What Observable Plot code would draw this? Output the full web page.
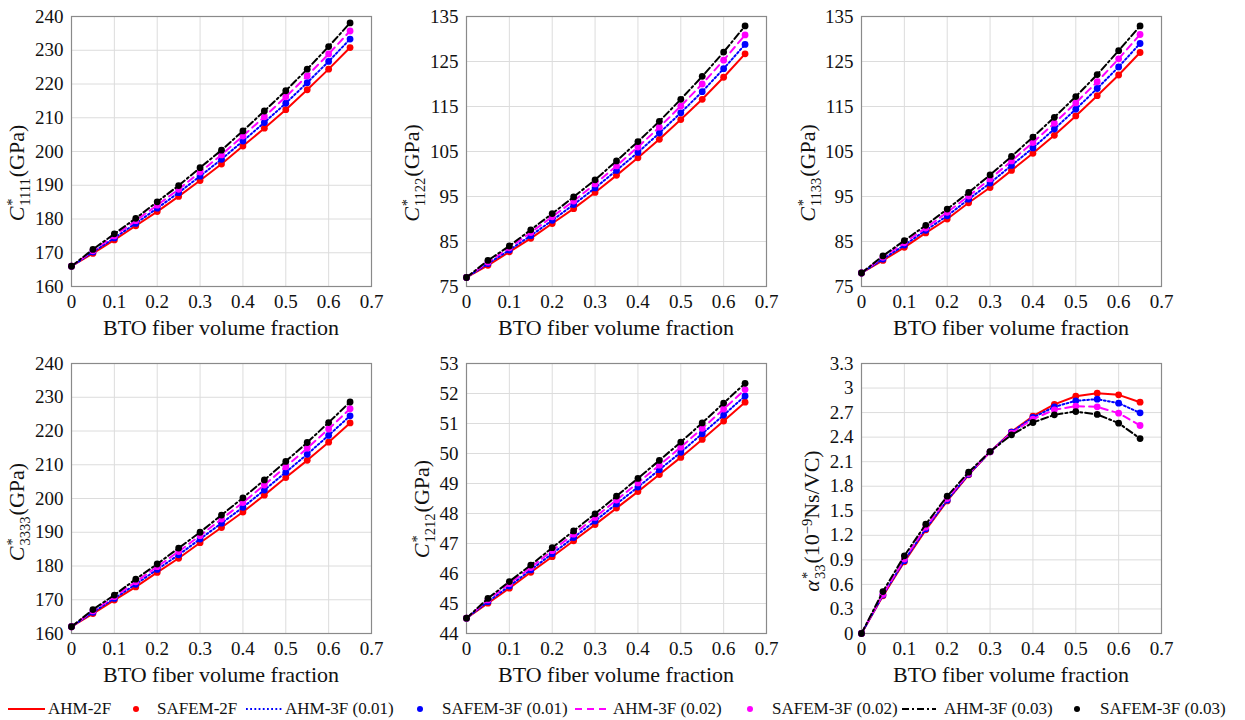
<!DOCTYPE html>
<html>
<head>
<meta charset="utf-8">
<script src="https://cdn.jsdelivr.net/npm/d3@7"></script>
<script src="https://cdn.jsdelivr.net/npm/@observablehq/plot@0.6"></script>
<style>
  html, body { margin: 0; padding: 0; background: #fff; }
  body, #root, #root *, #root svg, #root svg text, #root svg g { font-family: 'Liberation Serif', 'Times New Roman', serif !important; }
  #root { position: relative; width: 1245px; height: 720px; overflow: hidden; color: #111; }
  .xlab { position: absolute; transform: translate(-50%, -50%); font-size: 22px; white-space: nowrap; line-height: 1; }
  .ylab { position: absolute; transform: translate(-50%, -50%) rotate(-90deg); font-size: 22px; white-space: nowrap; line-height: 1; }
  .ss { display: inline-block; vertical-align: -0.42em; font-size: 0.66em; line-height: 0.92; text-align: left; margin: 0 1px 0 1px; }
  .ss span { display: block; }
  .sup { font-size: 0.66em; vertical-align: 0.5em; line-height: 0; }
  .leg { position: absolute; top: 699px; height: 20px; line-height: 20px; font-size: 17px; white-space: nowrap; }
</style>
</head>
<body>
<div id="root"></div>
<script>
// ---------------- data ----------------
const vf = [0, 0.05, 0.1, 0.15, 0.2, 0.25, 0.3, 0.35, 0.4, 0.45, 0.5, 0.55, 0.6, 0.65];
const xTicks = [0, 0.1, 0.2, 0.3, 0.4, 0.5, 0.6, 0.7];

const seriesLine = ["AHM-2F", "AHM-3F (0.01)", "AHM-3F (0.02)", "AHM-3F (0.03)"];
const seriesDot = ["SAFEM-2F", "SAFEM-3F (0.01)", "SAFEM-3F (0.02)", "SAFEM-3F (0.03)"];

// C*1111 (GPa)
const C1111_2F   = [166, 169.8, 173.8, 178.0, 182.2, 186.7, 191.4, 196.3, 201.6, 206.9, 212.4, 218.3, 224.4, 230.8];
const C1111_3F01 = [166, 170.2, 174.4, 178.7, 183.2, 187.8, 192.7, 197.7, 203.1, 208.6, 214.3, 220.4, 226.7, 233.3];
const C1111_3F02 = [166, 170.6, 175.0, 179.5, 184.1, 188.8, 193.9, 199.0, 204.6, 210.3, 216.2, 222.4, 228.9, 235.7];
const C1111_3F03 = [166, 171.0, 175.6, 180.2, 185.1, 189.9, 195.2, 200.4, 206.1, 212.0, 218.0, 224.4, 231.1, 238.1];
const C1111_ticks = [160, 170, 180, 190, 200, 210, 220, 230, 240];

// C*1122 (GPa)
const C1122_2F   = [77, 79.7, 82.7, 85.7, 89.0, 92.3, 95.9, 99.7, 103.6, 107.7, 112.1, 116.6, 121.5, 126.7];
const C1122_3F01 = [77, 80.1, 83.1, 86.3, 89.7, 93.2, 96.9, 100.8, 104.8, 109.1, 113.6, 118.3, 123.4, 128.8];
const C1122_3F02 = [77, 80.4, 83.6, 87.0, 90.5, 94.0, 97.8, 101.8, 106.0, 110.4, 115.1, 120.0, 125.3, 130.9];
const C1122_3F03 = [77, 80.8, 84.0, 87.6, 91.2, 94.9, 98.7, 102.9, 107.2, 111.7, 116.6, 121.7, 127.1, 132.9];
const C1122_ticks = [75, 85, 95, 105, 115, 125, 135];

// C*1133 (GPa)
const C1133_2F   = [78, 80.8, 83.7, 86.9, 90.0, 93.6, 97.0, 100.8, 104.6, 108.6, 112.9, 117.4, 122.0, 127.0];
const C1133_3F01 = [78, 81.1, 84.2, 87.5, 90.7, 94.4, 98.0, 101.9, 105.8, 110.0, 114.4, 119.0, 123.8, 129.0];
const C1133_3F02 = [78, 81.5, 84.7, 88.0, 91.5, 95.1, 98.9, 102.9, 107.0, 111.3, 115.8, 120.5, 125.6, 131.0];
const C1133_3F03 = [78, 81.8, 85.2, 88.6, 92.2, 95.9, 99.8, 103.9, 108.2, 112.6, 117.2, 122.1, 127.4, 132.9];
const C1133_ticks = [75, 85, 95, 105, 115, 125, 135];

// C*3333 (GPa)
const C3333_2F   = [162, 165.9, 169.9, 173.8, 178.1, 182.3, 186.9, 191.4, 196.0, 201.0, 206.2, 211.3, 216.7, 222.4];
const C3333_3F01 = [162, 166.3, 170.4, 174.6, 179.0, 183.3, 188.0, 192.7, 197.4, 202.5, 207.8, 213.1, 218.7, 224.5];
const C3333_3F02 = [162, 166.7, 170.9, 175.3, 179.8, 184.3, 189.0, 193.9, 198.8, 204.0, 209.4, 214.9, 220.6, 226.6];
const C3333_3F03 = [162, 167.1, 171.4, 176.1, 180.6, 185.3, 190.0, 195.1, 200.2, 205.5, 211.0, 216.6, 222.5, 228.6];
const C3333_ticks = [160, 170, 180, 190, 200, 210, 220, 230, 240];

// C*1212 (GPa)
const C1212_2F   = [44.51, 45.01, 45.51, 46.04, 46.56, 47.09, 47.63, 48.18, 48.73, 49.30, 49.87, 50.47, 51.08, 51.71];
const C1212_3F01 = [44.51, 45.06, 45.58, 46.12, 46.66, 47.20, 47.75, 48.32, 48.88, 49.46, 50.04, 50.66, 51.28, 51.92];
const C1212_3F02 = [44.51, 45.12, 45.66, 46.20, 46.76, 47.31, 47.87, 48.45, 49.02, 49.61, 50.21, 50.84, 51.48, 52.13];
const C1212_3F03 = [44.51, 45.17, 45.73, 46.28, 46.86, 47.42, 47.99, 48.58, 49.17, 49.77, 50.38, 51.02, 51.68, 52.34];
const C1212_ticks = [44, 45, 46, 47, 48, 49, 50, 51, 52, 53];

// alpha*33 (1e-9 Ns/VC)
const A33_2F   = [0, 0.46, 0.876, 1.267, 1.62, 1.94, 2.22, 2.465, 2.656, 2.80, 2.90, 2.937, 2.917, 2.827];
const A33_3F01 = [0, 0.47, 0.89, 1.28, 1.63, 1.945, 2.22, 2.46, 2.64, 2.77, 2.844, 2.864, 2.815, 2.697];
const A33_3F02 = [0, 0.48, 0.91, 1.30, 1.65, 1.955, 2.22, 2.45, 2.62, 2.734, 2.779, 2.77, 2.693, 2.542];
const A33_3F03 = [0, 0.513, 0.949, 1.336, 1.678, 1.972, 2.224, 2.428, 2.579, 2.673, 2.713, 2.677, 2.571, 2.383];
const A33_ticks = [0, 0.3, 0.6, 0.9, 1.2, 1.5, 1.8, 2.1, 2.4, 2.7, 3, 3.3];

// ---------------- styles ----------------
const FONT = "'Liberation Serif', 'Times New Roman', serif";
const colors = ["#ff0000", "#0000ff", "#ff00ff", "#000000"];
const dashes = [null, "1.8,2.4", "7,5", "7,3,2,3"];

const ylabC = sub => `<i>C</i><span class="ss"><span>*</span><span>${sub}</span></span>(GPa)`;
const ylabA = `<i>α</i><span class="ss"><span>*</span><span>33</span></span>(10<span class="sup">−9</span>Ns/VC)`;

const panels = [
  {series: [C1111_2F, C1111_3F01, C1111_3F02, C1111_3F03], domain: [160, 240], ticks: C1111_ticks, label: ylabC("1111"), left: 1, top: 0, lx: 19, ly: 173},
  {series: [C1122_2F, C1122_3F01, C1122_3F02, C1122_3F03], domain: [75, 135], ticks: C1122_ticks, label: ylabC("1122"), left: 396, top: 0, lx: 414, ly: 173},
  {series: [C1133_2F, C1133_3F01, C1133_3F02, C1133_3F03], domain: [75, 135], ticks: C1133_ticks, label: ylabC("1133"), left: 791, top: 0, lx: 810, ly: 173},
  {series: [C3333_2F, C3333_3F01, C3333_3F02, C3333_3F03], domain: [160, 240], ticks: C3333_ticks, label: ylabC("3333"), left: 1, top: 347, lx: 19, ly: 512},
  {series: [C1212_2F, C1212_3F01, C1212_3F02, C1212_3F03], domain: [44, 53], ticks: C1212_ticks, label: ylabC("1212"), left: 396, top: 347, lx: 424, ly: 509},
  {series: [A33_2F, A33_3F01, A33_3F02, A33_3F03], domain: [0, 3.3], ticks: A33_ticks, label: ylabA, left: 791, top: 347, lx: 814, ly: 521}
];

const root = document.getElementById("root");
root.style.fontFamily = FONT;
const W = 400, H = 330, ML = 70, MR = 30, MT = 16, MB = 44;
const fmt = d3.format("~g");

for (const p of panels) {
  const marks = [
    Plot.gridX(xTicks, {stroke: "#dcdcdc", strokeOpacity: 1, strokeWidth: 1}),
    Plot.gridY(p.ticks, {stroke: "#dcdcdc", strokeOpacity: 1, strokeWidth: 1}),
    Plot.frame({stroke: "#8a8a8a", strokeWidth: 1.2}),
    Plot.axisX(xTicks, {tickSize: 0, tickPadding: 8, tickFormat: fmt, label: null, fontFamily: FONT}),
    Plot.axisY(p.ticks, {tickSize: 0, tickPadding: 8, tickFormat: fmt, label: null, fontFamily: FONT})
  ];
  p.series.forEach((arr, i) => {
    const rows = vf.map((x, j) => ({x, y: arr[j], name: seriesLine[i]}));
    const lineOpts = {x: "x", y: "y", stroke: colors[i], strokeWidth: 2};
    if (dashes[i]) lineOpts.strokeDasharray = dashes[i];
    marks.push(Plot.line(rows, lineOpts));
    marks.push(Plot.dot(rows, {x: "x", y: "y", fill: colors[i], r: 3.4, stroke: "none"}));
  });
  const svg = Plot.plot({
    width: W, height: H,
    marginLeft: ML, marginRight: MR, marginTop: MT, marginBottom: MB,
    x: {domain: [0, 0.7]},
    y: {domain: p.domain},
    style: {fontFamily: FONT, fontSize: "19px", color: "#111", background: "transparent", overflow: "visible"},
    marks
  });
  svg.style.position = "absolute";
  svg.style.left = p.left + "px";
  svg.style.top = p.top + "px";
  root.appendChild(svg);

  const xl = document.createElement("div");
  xl.className = "xlab";
  xl.textContent = "BTO fiber volume fraction";
  xl.style.left = (p.left + ML + (W - ML - MR) / 2) + "px";
  xl.style.top = (p.top + H - MB + 42) + "px";
  root.appendChild(xl);

  const yl = document.createElement("div");
  yl.className = "ylab";
  yl.innerHTML = p.label;
  yl.style.left = p.lx + "px";
  yl.style.top = p.ly + "px";
  root.appendChild(yl);
}

// ---------------- legend ----------------
const legendItems = [
  {kind: "line", i: 0, sx: 8, sw: 37, tx: 48, text: seriesLine[0]},
  {kind: "dot", i: 0, sx: 136, tx: 157, text: seriesDot[0]},
  {kind: "line", i: 1, sx: 246, sw: 37, tx: 285, text: seriesLine[1]},
  {kind: "dot", i: 1, sx: 420, tx: 442, text: seriesDot[1]},
  {kind: "line", i: 2, sx: 575, sw: 36, tx: 613, text: seriesLine[2]},
  {kind: "dot", i: 2, sx: 750, tx: 772, text: seriesDot[2]},
  {kind: "line", i: 3, sx: 902, sw: 34, tx: 944, text: seriesLine[3]},
  {kind: "dot", i: 3, sx: 1077, tx: 1100, text: seriesDot[3]}
];
const NS = "http://www.w3.org/2000/svg";
for (const it of legendItems) {
  const s = document.createElementNS(NS, "svg");
  if (it.kind === "line") {
    s.setAttribute("width", it.sw); s.setAttribute("height", 20);
    s.style.left = it.sx + "px";
    const l = document.createElementNS(NS, "line");
    l.setAttribute("x1", 0); l.setAttribute("x2", it.sw);
    l.setAttribute("y1", 10); l.setAttribute("y2", 10);
    l.setAttribute("stroke", colors[it.i]); l.setAttribute("stroke-width", 2);
    if (dashes[it.i]) l.setAttribute("stroke-dasharray", dashes[it.i]);
    s.appendChild(l);
  } else {
    s.setAttribute("width", 10); s.setAttribute("height", 20);
    s.style.left = (it.sx - 5) + "px";
    const c = document.createElementNS(NS, "circle");
    c.setAttribute("cx", 5); c.setAttribute("cy", 10); c.setAttribute("r", 3);
    c.setAttribute("fill", colors[it.i]);
    s.appendChild(c);
  }
  s.style.position = "absolute";
  s.style.top = "699px";
  root.appendChild(s);
  const t = document.createElement("div");
  t.className = "leg";
  t.style.left = it.tx + "px";
  t.textContent = it.text;
  root.appendChild(t);
}
</script>
</body>
</html>
